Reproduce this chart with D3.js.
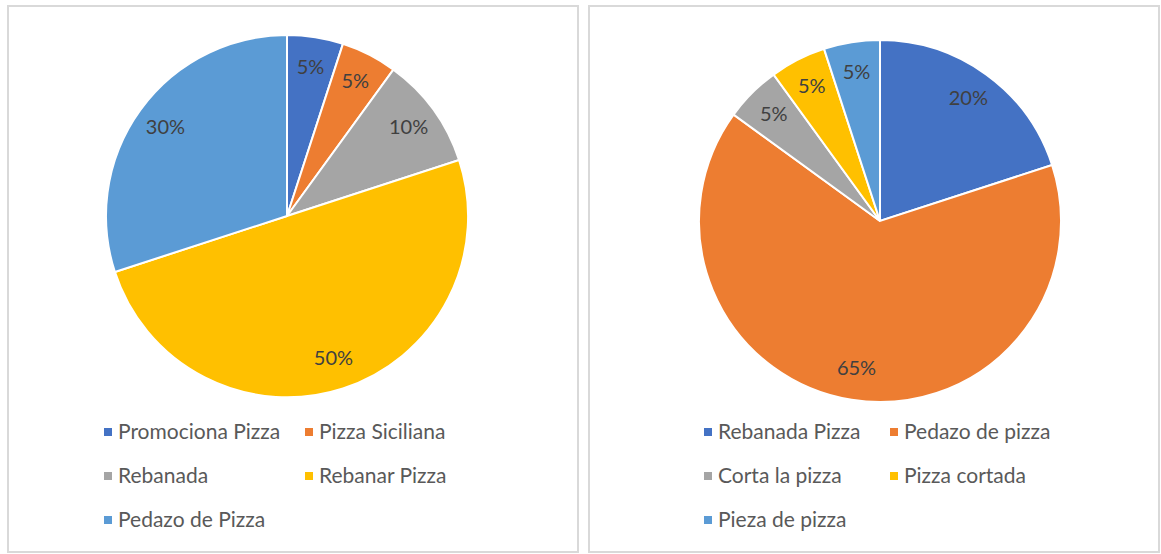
<!DOCTYPE html>
<html>
<head>
<meta charset="utf-8">
<script src="https://cdn.jsdelivr.net/npm/d3@7"></script>
<style>
  body { margin: 0; background: #fff; }
  svg text { font-family: Lato, "Open Sans", sans-serif; }
</style>
</head>
<body>
<div id="chart"></div>
<script>
// chart data
const leftLabels = ["Promociona Pizza", "Pizza Siciliana", "Rebanada", "Rebanar Pizza", "Pedazo de Pizza"];
const leftValues = [5, 5, 10, 50, 30];
const rightLabels = ["Rebanada Pizza", "Pedazo de pizza", "Corta la pizza", "Pizza cortada", "Pieza de pizza"];
const rightValues = [20, 65, 5, 5, 5];
const colors = ["#4472C4", "#ED7D31", "#A5A5A5", "#FFC000", "#5B9BD5"];

const svg = d3.select("#chart").append("svg")
  .attr("width", 1161)
  .attr("height", 554);

function drawPanel(opts) {
  // panel frame
  svg.append("rect")
    .attr("x", opts.x0).attr("y", 6)
    .attr("width", opts.w).attr("height", 546)
    .attr("fill", "#fff")
    .attr("stroke", "#d9d9d9")
    .attr("stroke-width", 2);

  const g = svg.append("g")
    .attr("transform", "translate(" + opts.cx + "," + opts.cy + ")");

  const data = opts.labels.map((l, i) => ({ label: l, value: opts.values[i], color: colors[i] }));
  const pie = d3.pie().sort(null).value(d => d.value);
  const arc = d3.arc().innerRadius(0).outerRadius(opts.r);
  const labelArc = d3.arc().innerRadius(opts.r * 0.83).outerRadius(opts.r * 0.83);
  const total = d3.sum(opts.values);

  const arcs = pie(data);
  g.selectAll("path")
    .data(arcs)
    .enter().append("path")
    .attr("d", arc)
    .attr("fill", d => d.data.color)
    .attr("stroke", "#fff")
    .attr("stroke-width", 2);

  g.selectAll("text.lbl")
    .data(arcs)
    .enter().append("text")
    .attr("class", "lbl")
    .attr("transform", d => "translate(" + labelArc.centroid(d) + ")")
    .attr("text-anchor", "middle")
    .attr("dy", "0.3em")
    .attr("font-size", 20)
    .attr("fill", "#404040")
    .text(d => Math.round(d.data.value / total * 100) + "%");

  // legend, two columns
  const leg = svg.append("g");
  const items = leg.selectAll("g")
    .data(data)
    .enter().append("g")
    .attr("transform", (d, i) =>
      "translate(" + (i % 2 === 0 ? opts.legX1 : opts.legX2) + "," + (432 + Math.floor(i / 2) * 44) + ")");
  items.append("rect")
    .attr("x", 0).attr("y", -4)
    .attr("width", 8).attr("height", 8)
    .attr("fill", d => d.color);
  items.append("text")
    .attr("x", 14)
    .attr("dy", "0.35em")
    .attr("font-size", 21)
    .attr("fill", "#595959")
    .text(d => d.label);
}

drawPanel({ x0: 8, w: 570, cx: 287, cy: 216, r: 181, labels: leftLabels, values: leftValues, legX1: 104, legX2: 305 });
drawPanel({ x0: 589, w: 570, cx: 880, cy: 221, r: 181, labels: rightLabels, values: rightValues, legX1: 704, legX2: 890 });
</script>
</body>
</html>
